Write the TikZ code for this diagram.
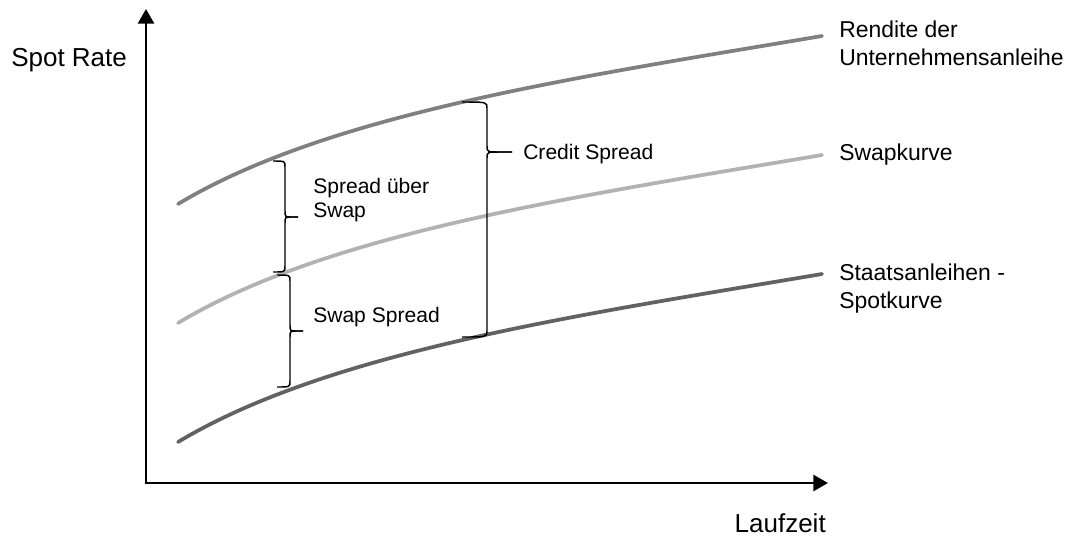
\documentclass[tikz,border=0pt]{standalone}
\usepackage{fontspec}
\setmainfont{Liberation Sans}
\usetikzlibrary{arrows.meta}
\definecolor{grauOben}{RGB}{128,128,128}
\definecolor{grauMitte}{RGB}{178,178,178}
\definecolor{grauUnten}{RGB}{98,98,98}

\begin{document}
\begin{tikzpicture}[x=0.75pt,y=-0.75pt,
    achse/.style={line width=2.2pt,line join=miter,
        {Triangle[length=11pt,width=12pt]}-{Triangle[length=11pt,width=12pt]}},
    kurve/.style={line width=2.8pt,line cap=round},
    klammer/.style={line width=1.1pt},
    gross/.style={font=\fontsize{19.5}{23}\selectfont,inner sep=0pt},
    rechts/.style={font=\fontsize{17.2}{21}\selectfont,align=left,anchor=base west,inner sep=0pt},
    klein/.style={font=\fontsize{15.8}{18}\selectfont,align=left,anchor=base west,inner sep=0pt}]
    \useasboundingbox (0,0) rectangle (1077,537);
    % Haken-x, Linie-x, Spitze-x, oben-y, Spitze-y, unten-y
    \def\klammer#1#2#3#4#5#6{%
        \draw[klammer] (#1,#4) .. controls (#2,#4) .. (#2,#4+6) -- (#2,#5-6)
            .. controls (#2,#5) .. ({#2+(#3-#2)*0.55},#5) -- (#3,#5);
        \draw[klammer] (#3,#5) -- ({#2+(#3-#2)*0.55},#5) .. controls (#2,#5) .. (#2,#5+6)
            -- (#2,#6-6) .. controls (#2,#6) .. (#1,#6);
    }

    % Achsen
    \coordinate (ursprung) at (146,483);
    \coordinate (yspitze) at (146,9);
    \coordinate (xspitze) at (828,483);
    \draw[achse] (yspitze) -- (ursprung) -- (xspitze);

    \node[gross,anchor=base west] (spotrate) at (11,66) {Spot Rate};
    \node[gross,anchor=base east] (laufzeit) at (826,532) {Laufzeit};

    % Kurven
    \draw[kurve,grauOben] (178,204) .. controls +(150,-90) and +(-250,42) .. (822,36);
    \draw[kurve,grauMitte] (178,323) .. controls +(150,-90) and +(-250,42) .. (822,155);
    \draw[kurve,grauUnten] (178,442) .. controls +(150,-90) and +(-250,42) .. (822,274);

    \node[rechts] (rendite) at (839,65) {Rendite der\\Unternehmensanleihe};
    \node[rechts] (swapkurve) at (839,160) {Swapkurve};
    \node[rechts] (staat) at (839,308) {Staatsanleihen -\\Spotkurve};

    % Klammern
    \klammer{273}{285}{298}{161}{217}{272}
    \klammer{277}{290}{303}{275}{331}{387}
    \klammer{462}{487}{512}{102}{152}{337}

    \node[klein] (ueberswap) at (313,217) {Spread über\\Swap};
    \node[klein] (swapspread) at (313,322) {Swap Spread};
    \node[klein] (credit) at (523,159) {Credit Spread};
\end{tikzpicture}
\end{document}
